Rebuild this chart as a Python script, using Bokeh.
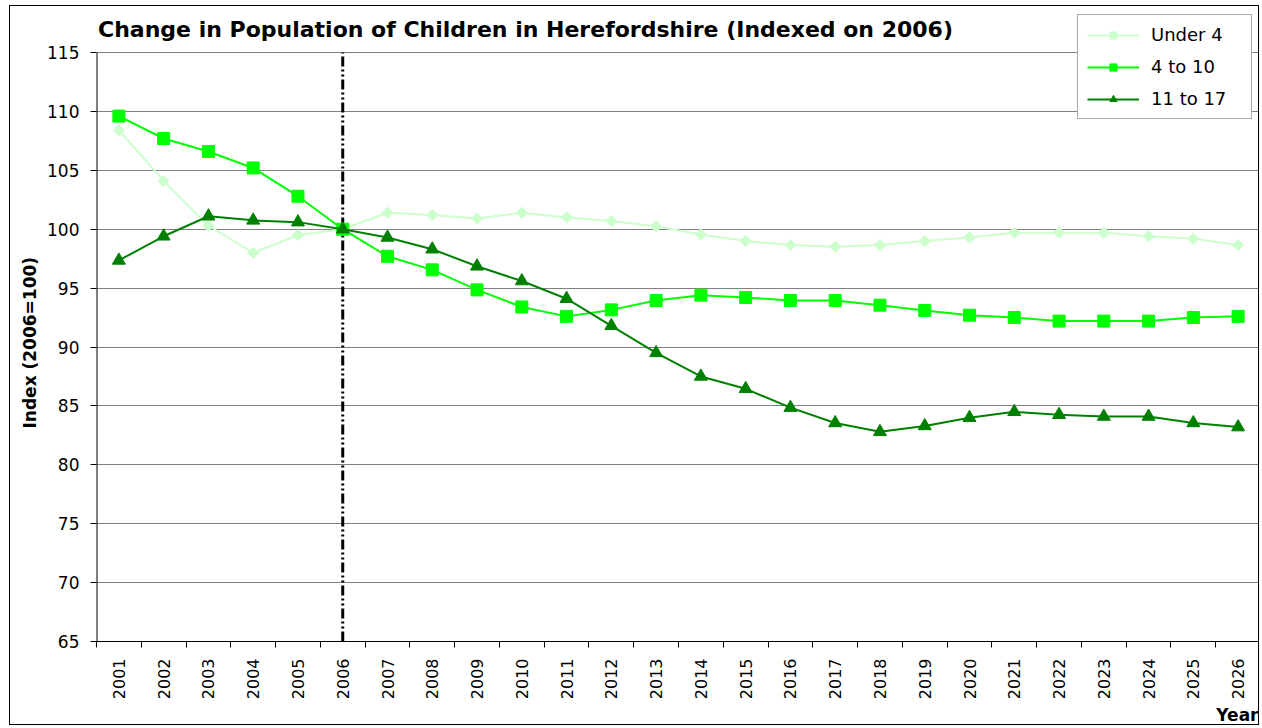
import math
from bokeh.plotting import figure
from bokeh.models import (FixedTicker, Label, Legend, LegendItem, Range1d, Title,
                          CustomJSTickFormatter)
from bokeh.embed import file_html
from bokeh.resources import INLINE

# ---- data ----
years = [str(y) for y in range(2001, 2027)]
under4 = [108.4, 104.1, 100.3, 98.0, 99.5, 100.0, 101.4, 101.2, 100.9, 101.4,
          101.0, 100.7, 100.25, 99.55, 99.0, 98.65, 98.5, 98.65, 99.0, 99.3,
          99.7, 99.7, 99.7, 99.4, 99.2, 98.65]
age4_10 = [109.6, 107.7, 106.6, 105.2, 102.8, 100.0, 97.7, 96.55, 94.85, 93.4,
           92.6, 93.15, 93.95, 94.4, 94.2, 93.95, 93.95, 93.55, 93.1, 92.7,
           92.5, 92.2, 92.2, 92.2, 92.5, 92.6]
age11_17 = [97.35, 99.4, 101.1, 100.75, 100.6, 100.0, 99.3, 98.3, 96.85, 95.6,
            94.1, 91.8, 89.5, 87.5, 86.45, 84.85, 83.55, 82.8, 83.3, 84.0,
            84.5, 84.25, 84.1, 84.1, 83.55, 83.2]
y_ticks = [65, 70, 75, 80, 85, 90, 95, 100, 105, 110, 115]
base_year = "2006"
title_text = "Change in Population of Children in Herefordshire (Indexed on 2006)"
y_label = "Index (2006=100)"
x_label = "Year"

FONT = "DejaVu Sans"
W, H = 1250, 720
ML, MR, MT, MB = 86, 0, 6, 85
FW, FH = W - ML - MR, H - MT - MB
TOP_PAD = 40          # px of frame above the top tick (room for legend / title)

y0, y1 = y_ticks[0], y_ticks[-1]
y_end = y1 + TOP_PAD * (y1 - y0) / (FH - TOP_PAD)
nx = len(years)
xs = [i + 0.5 for i in range(nx)]

p = figure(width=W, height=H, output_backend="svg", toolbar_location=None,
           x_range=Range1d(0, nx), y_range=Range1d(y0, y_end),
           min_border_left=ML, min_border_right=MR, min_border_top=MT,
           min_border_bottom=MB)
p.styles = {"border": "1px solid black", "margin-left": "9px", "margin-top": "5px"}
p.background_fill_color = "white"
p.border_fill_color = "white"
p.outline_line_color = None

# x axis: labels at category centres, ticks at boundaries
p.xaxis.ticker = FixedTicker(ticks=xs, minor_ticks=list(range(nx + 1)))
p.xaxis.formatter = CustomJSTickFormatter(args=dict(labels=years),
                                          code="return labels[Math.floor(tick)];")
p.xaxis.major_tick_line_color = None
p.xaxis.major_tick_out = 6
p.xaxis.major_tick_in = 0
p.xaxis.minor_tick_line_color = "black"
p.xaxis.minor_tick_out = 6
p.xaxis.minor_tick_in = 0
p.xaxis.major_label_orientation = math.pi / 2
p.xaxis.major_label_standoff = 11
p.xaxis.major_label_text_font = FONT
p.xaxis.major_label_text_font_size = "16px"
p.xaxis.major_label_text_color = "black"
p.xaxis.axis_line_color = "black"
p.xgrid.visible = False

p.yaxis.ticker = FixedTicker(ticks=y_ticks)
p.yaxis.major_tick_out = 6
p.yaxis.major_tick_in = 0
p.yaxis.minor_tick_line_color = None
p.yaxis.major_label_standoff = 11
p.yaxis.major_label_text_font = FONT
p.yaxis.major_label_text_font_size = "17px"
p.yaxis.major_label_text_color = "black"
p.yaxis.axis_line_color = None
p.ygrid.grid_line_color = "#808080"
p.ygrid.grid_line_width = 1

# plot-area edges (axis line on the left, grey border on the right)
p.segment(x0=[0], y0=[y0], x1=[0], y1=[y1], line_color="black", line_width=2)
p.segment(x0=[nx], y0=[y0], x1=[nx], y1=[y1], line_color="#808080", line_width=2)

# base year marker line
xb = years.index(base_year) + 0.5
p.segment(x0=[xb], y0=[y0], x1=[xb], y1=[y1], line_color="black", line_width=3,
          line_dash="10 3 2 3 2 3")

# series
c1, c2, c3 = "#CCFFCC", "#00FF00", "#008000"
l1 = p.line(xs, under4, line_color=c1, line_width=2)
m1 = p.scatter(xs, under4, marker="square", angle=math.pi / 4, size=8,
               fill_color=c1, line_color=c1)
l2 = p.line(xs, age4_10, line_color=c2, line_width=2)
m2 = p.scatter(xs, age4_10, marker="square", size=12, fill_color=c2, line_color=c2)
l3 = p.line(xs, age11_17, line_color=c3, line_width=2)
m3 = p.scatter(xs, age11_17, marker="triangle", size=13, fill_color=c3, line_color=c3)

legend = Legend(items=[LegendItem(label="Under 4", renderers=[l1, m1]),
                       LegendItem(label="4 to 10", renderers=[l2, m2]),
                       LegendItem(label="11 to 17", renderers=[l3, m3])],
                location=(981, 522), glyph_width=52, glyph_height=18,
                label_standoff=12, spacing=11, padding=9, margin=0,
                label_width=91,
                label_text_font=FONT, label_text_font_size="18px",
                label_text_color="black",
                border_line_color="#555555", border_line_width=1,
                background_fill_color="white", background_fill_alpha=1.0)
p.add_layout(legend)

p.add_layout(Label(x=429, y=FH - 17, x_units="screen", y_units="screen",
                   text=title_text, text_align="center", text_baseline="middle",
                   text_font=FONT, text_font_style="bold", text_font_size="22px",
                   text_color="black"))

p.add_layout(Title(text=y_label, align="left", offset=213, standoff=10,
                   text_font=FONT, text_font_style="bold", text_font_size="17px",
                   text_color="black"), "left")
p.add_layout(Title(text=x_label, align="right", offset=2, standoff=0,
                   text_font=FONT, text_font_style="bold", text_font_size="17px",
                   text_color="black"), "below")

open("out.html", "w").write(file_html(p, INLINE))
